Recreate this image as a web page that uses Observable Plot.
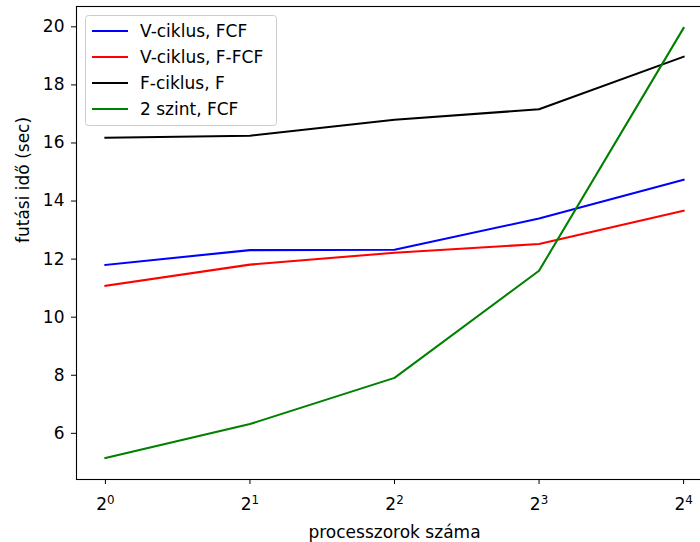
<!DOCTYPE html>
<html>
<head>
<meta charset="utf-8">
<script src="https://cdn.jsdelivr.net/npm/d3@7"></script>
<script src="https://cdn.jsdelivr.net/npm/@observablehq/plot@0.6"></script>
<style>
  html, body { margin: 0; padding: 0; background: #fff; }
  #chart { position: relative; width: 700px; height: 542px; overflow: hidden; }
</style>
</head>
<body>
<div id="chart"></div>
<script>
// ---- data ----
const procs = [1, 2, 4, 8, 16];
const xTickBase = "2";
const xTickExponents = ["0", "1", "2", "3", "4"];
const yTicks = [6, 8, 10, 12, 14, 16, 18, 20];
const seriesNames = ["V-ciklus, FCF", "V-ciklus, F-FCF", "F-ciklus, F", "2 szint, FCF"];
const seriesColors = ["#0000ff", "#ff0000", "#000000", "#008000"];
const vFCF  = [11.80, 12.31, 12.32, 13.40, 14.73];
const vFFCF = [11.08, 11.81, 12.22, 12.52, 13.67];
const fF    = [16.18, 16.25, 16.80, 17.16, 18.97];
const twoFCF = [5.15, 6.32, 7.91, 11.60, 19.96];
const xLabel = "processzorok száma";
const yLabel = "futási idő (sec)";

const seriesValues = [vFCF, vFFCF, fF, twoFCF];
const rows = [];
seriesNames.forEach((name, s) => {
  procs.forEach((p, i) => rows.push({series: name, p, t: seriesValues[s][i]}));
});

const font = "DejaVu Sans, sans-serif";
const fs = 17;

const chart = Plot.plot({
  width: 700,
  height: 542,
  marginLeft: 76,
  marginRight: -12,
  marginTop: 6,
  marginBottom: 63,
  style: {fontFamily: font, fontSize: fs + "px", color: "#000", background: "#fff", overflow: "hidden"},
  x: {type: "log", base: 2, domain: [Math.pow(2, -0.2), Math.pow(2, 4.2)]},
  y: {domain: [4.41, 20.70]},
  color: {domain: seriesNames, range: seriesColors},
  marks: [
    Plot.line(rows, {x: "p", y: "t", z: "series", stroke: "series", strokeWidth: 2.08, strokeLinejoin: "round", strokeLinecap: "square"}),
    Plot.frame({stroke: "#000", strokeWidth: 1.1}),
    Plot.axisX({ticks: procs, tickFormat: () => xTickBase, tickSize: 5, tickPadding: 13.4, label: null, fontSize: fs}),
    Plot.axisY({ticks: yTicks, tickSize: 5, tickPadding: 7, label: null, fontSize: fs}),
    Plot.text([xLabel], {frameAnchor: "bottom", dy: 52.6, lineAnchor: "middle", fontSize: fs, fill: "#000"}),
    Plot.text([yLabel], {frameAnchor: "left", dx: -53.4, rotate: -90, lineAnchor: "middle", fontSize: fs, fill: "#000"})
  ]
});
document.getElementById("chart").appendChild(chart);

const svg = d3.select(chart);

// superscript exponents on x tick labels
svg.selectAll('g[aria-label="x-axis tick label"] text').each(function(d, i) {
  const t = d3.select(this);
  t.text(null);
  t.append("tspan").text(xTickBase);
  t.append("tspan").attr("dy", "-5.5").style("font-size", (fs * 0.7) + "px").text(xTickExponents[i]);
});

// ---- legend (inside the axes, upper left) ----
const lg = svg.append("g").style("font-family", font).style("font-size", fs + "px").attr("text-anchor", "start");
lg.append("rect")
  .attr("x", 85.5).attr("y", 15.5).attr("width", 191).attr("height", 110)
  .attr("rx", 3).attr("fill", "#fff").attr("fill-opacity", 0.8)
  .attr("stroke", "#cccccc").attr("stroke-width", 1);
seriesNames.forEach((name, i) => {
  const y = 31 + i * 26;
  lg.append("line").attr("x1", 92).attr("x2", 128).attr("y1", y).attr("y2", y)
    .attr("stroke", seriesColors[i]).attr("stroke-width", 2.08);
  lg.append("text").attr("x", 140).attr("y", y + 6).attr("fill", "#000").attr("text-anchor", "start").text(name);
});
</script>
</body>
</html>
